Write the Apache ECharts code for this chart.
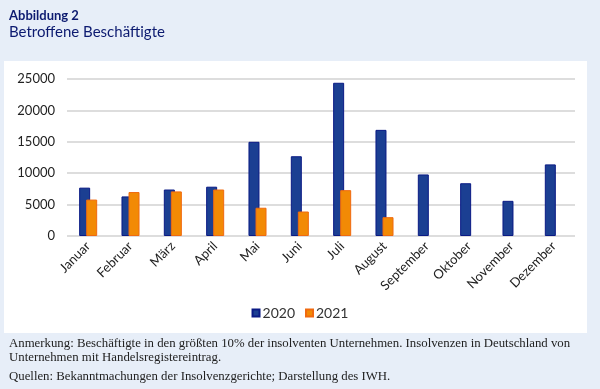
<!DOCTYPE html>
<html><head><meta charset="utf-8">
<script src="https://cdn.jsdelivr.net/npm/echarts@6/dist/echarts.min.js"></script>
<style>html,body{margin:0;padding:0;background:#e7eef8;}#c{width:600px;height:389px;}</style>
</head><body><div id="c"></div>
<script>
const months = ['Januar','Februar','März','April','Mai','Juni','Juli','August','September','Oktober','November','Dezember'];
const values2020 = [7700,6300,7400,7850,15000,12700,24400,16900,9800,8400,5600,11400];
const values2021 = [5800,7000,7100,7400,4500,3900,7300,3000,null,null,null,null];
const yTicks = [0,5000,10000,15000,20000,25000];
const title1 = 'Abbildung 2';
const title2 = 'Betroffene Beschäftigte';
const note1 = 'Anmerkung: Beschäftigte in den größten 10% der insolventen Unternehmen. Insolvenzen in Deutschland von';
const note2 = 'Unternehmen mit Handelsregistereintrag.';
const note3 = 'Quellen: Bekanntmachungen der Insolvenzgerichte; Darstellung des IWH.';

const chart = echarts.init(document.getElementById('c'), null, {renderer:'canvas'});
const serif = '"Liberation Serif", "DejaVu Serif", serif';
const sans = 'Lato, "Noto Sans", sans-serif';
chart.setOption({
  animation:false,
  backgroundColor:'#e7eef8',
  graphic:[
    {type:'rect', shape:{x:4,y:61,width:583,height:272}, style:{fill:'#ffffff'}, z:-10},
    {type:'text', left:9, top:9, style:{text:title1, font:'bold 13px '+sans, fill:'#0c1a70'}},
    {type:'text', left:9, top:25, style:{text:title2, font:'15px '+sans, fill:'#0c1a70'}},
    {type:'text', left:9, top:337, style:{text:note1, font:'12.8px '+serif, fill:'#222'}},
    {type:'text', left:9, top:351, style:{text:note2, font:'12.8px '+serif, fill:'#222'}},
    {type:'text', left:9, top:370, style:{text:note3, font:'12.8px '+serif, fill:'#222'}}
  ],
  grid:{left:67, right:25, top:79, bottom:153, containLabel:false},
  legend:{
    data:['2020','2021'], bottom:64, left:'center', itemWidth:7, itemHeight:7, itemGap:10,
    icon:'rect', textStyle:{fontFamily:sans, fontSize:14, color:'#333', padding:[0,0,0,-2]}
  },
  xAxis:{
    type:'category', data:months,
    axisLine:{show:false}, axisTick:{show:false},
    axisLabel:{rotate:45, interval:0, fontFamily:sans, fontSize:13, color:'#222', margin:8}
  },
  yAxis:{
    type:'value', min:0, max:25000, interval:5000,
    axisLine:{show:false}, axisTick:{show:false},
    splitLine:{lineStyle:{color:'#d2d2d2', width:1.5}},
    axisLabel:{fontFamily:sans, fontSize:13, color:'#222', margin:12,
      formatter:v=>yTicks.includes(v)?String(v):''}
  },
  series:[
    {name:'2020', type:'bar', data:values2020, barWidth:11, barGap:'-36%',
     itemStyle:{color:'#1b3f92', borderColor:'#0a1a85', borderWidth:1}},
    {name:'2021', type:'bar', data:values2021, barWidth:11,
     itemStyle:{color:'#f28a05', borderColor:'#f06a10', borderWidth:1}}
  ]
});
</script></body></html>
